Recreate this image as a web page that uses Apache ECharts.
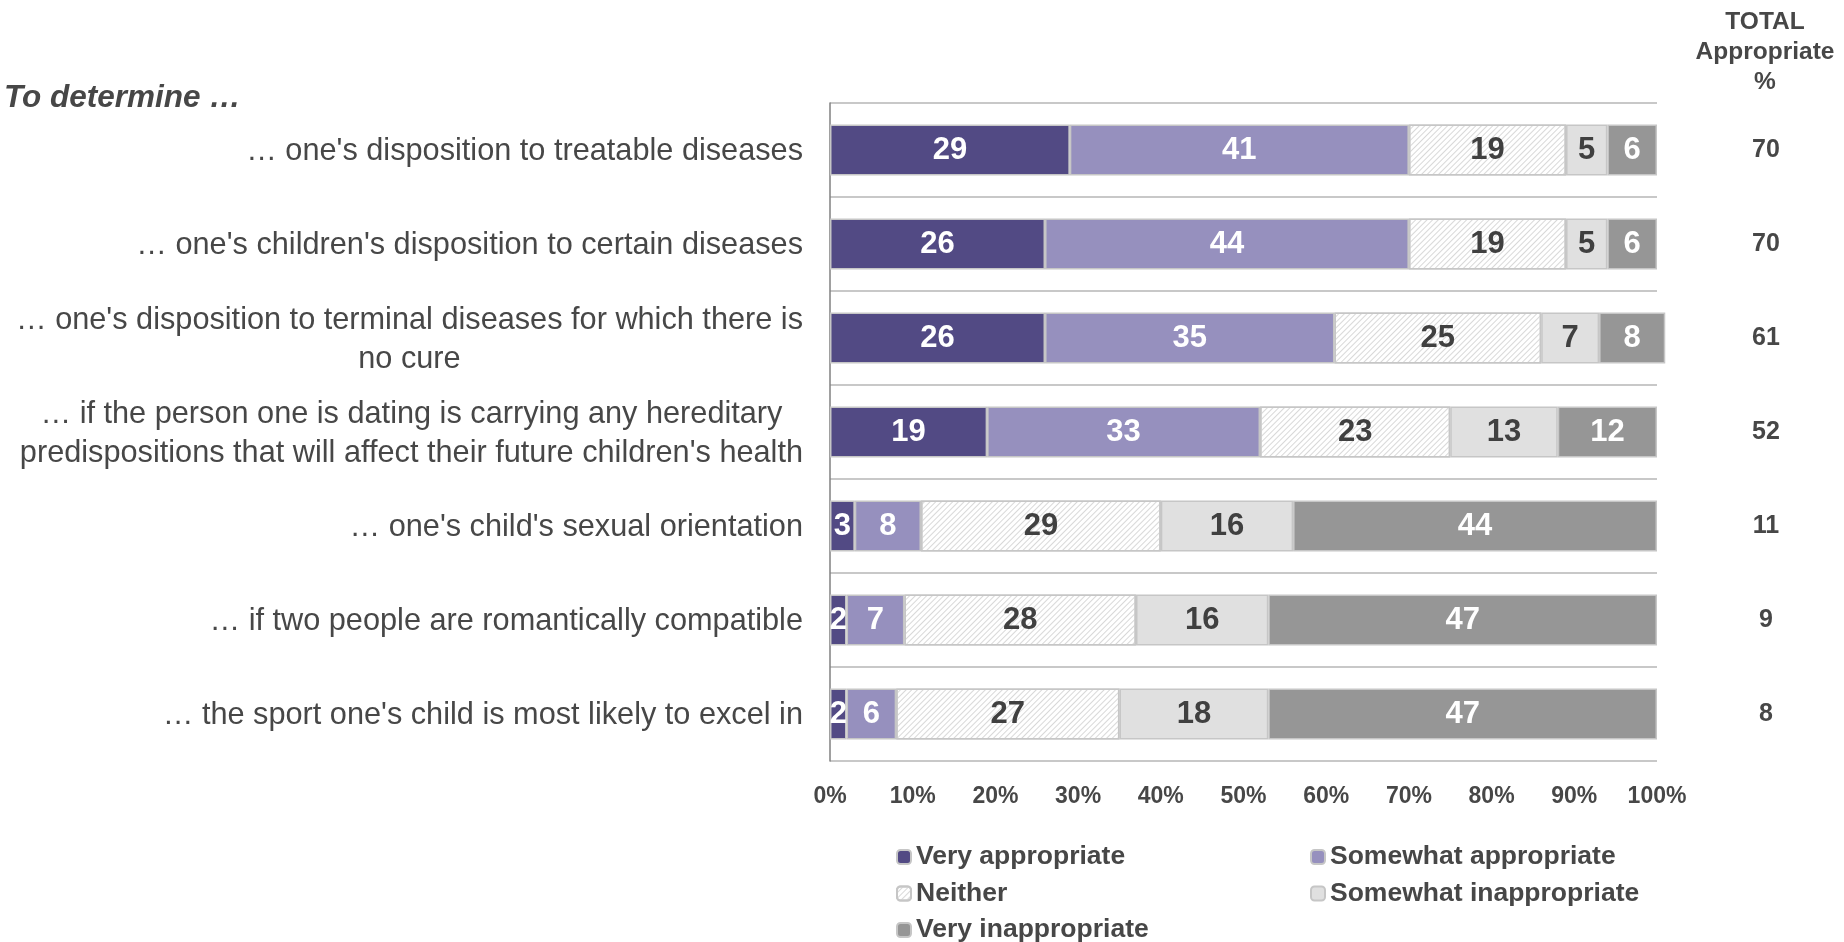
<!DOCTYPE html>
<html>
<head>
<meta charset="utf-8">
<script src="https://cdn.jsdelivr.net/npm/echarts@6/dist/echarts.min.js"></script>
<style>
html,body{margin:0;padding:0;background:#fff;}
#c{width:1844px;height:942px;}
</style>
</head>
<body>
<div id="c"></div>
<script>
const categories = [
  "… one's disposition to treatable diseases",
  "… one's children's disposition to certain diseases",
  "… one's disposition to terminal diseases for which there is\nno cure",
  "… if the person one is dating is carrying any hereditary\npredispositions that will affect their future children's health",
  "… one's child's sexual orientation",
  "… if two people are romantically compatible",
  "… the sport one's child is most likely to excel in"
];
const seriesNames = ["Very appropriate", "Somewhat appropriate", "Neither", "Somewhat inappropriate", "Very inappropriate"];
const veryAppropriate = [29, 26, 26, 19, 3, 2, 2];
const somewhatAppropriate = [41, 44, 35, 33, 8, 7, 6];
const neither = [19, 19, 25, 23, 29, 28, 27];
const somewhatInappropriate = [5, 5, 7, 13, 16, 16, 18];
const veryInappropriate = [6, 6, 8, 12, 44, 47, 47];
const totalAppropriate = [70, 70, 61, 52, 11, 9, 8];
const xTicks = [0, 10, 20, 30, 40, 50, 60, 70, 80, 90, 100];

const FONT = "'Liberation Sans', Arial, sans-serif";
const TXT = '#474747';
const colors = ['#524a84', '#9690be', '#ffffff', '#e0e0e0', '#969696'];
const labelColors = ['#ffffff', '#ffffff', '#404040', '#404040', '#ffffff'];
const values = [veryAppropriate, somewhatAppropriate, neither, somewhatInappropriate, veryInappropriate];

const series = seriesNames.map((name, i) => {
  const itemStyle = {color: colors[i], borderColor: '#c6c6c6', borderWidth: 1.5};
  if (i === 2) {
    itemStyle.decal = {
      symbol: 'rect', symbolSize: 1, color: '#d8d8d8',
      dashArrayX: [1, 0], dashArrayY: [1, 3], rotation: -Math.PI / 4
    };
  }
  return {
    name: name, type: 'bar', stack: 'total', barWidth: 51, clip: false,
    data: values[i], itemStyle: itemStyle,
    label: {show: true, position: 'inside', color: labelColors[i],
      fontFamily: FONT, fontWeight: 'bold', fontSize: 31, formatter: '{c}'},
    emphasis: {disabled: true}
  };
});

const legendText = {color: TXT, fontFamily: FONT, fontWeight: 'bold', fontSize: 26.5, lineHeight: 28};
const legendBase = {orient: 'vertical', itemWidth: 14, itemHeight: 14, itemGap: 8.5, itemTextGap: 6,
  selectedMode: false, textStyle: legendText};

const chart = echarts.init(document.getElementById('c'), null, {renderer: 'canvas'});
chart.setOption({
  animation: false,
  backgroundColor: '#ffffff',
  grid: {left: 830, right: 187, top: 103, bottom: 181, containLabel: false},
  xAxis: {
    type: 'value', min: 0, max: 100, interval: 10,
    axisLine: {show: false}, axisTick: {show: false}, splitLine: {show: false},
    axisLabel: {formatter: v => xTicks.includes(v) ? v + '%' : '', margin: 24,
      color: TXT, fontFamily: FONT, fontWeight: 'bold', fontSize: 23}
  },
  yAxis: [{
    type: 'category', inverse: true, data: categories,
    axisLine: {show: true, lineStyle: {color: '#808080', width: 1.5}},
    axisTick: {show: false},
    splitLine: {show: true, lineStyle: {color: '#c8c8c8', width: 2}},
    axisLabel: {interval: 0, margin: 27, align: 'right', color: TXT, fontFamily: FONT, fontSize: 30.7,
      padding: [4, 0, 0, 0],
      formatter: v => v.split('\n').map(l => '{c|' + l + '}').join('\n'),
      rich: {c: {align: 'center', color: TXT, fontFamily: FONT, fontSize: 30.7, lineHeight: 39}}}
  }, {
    type: 'category', inverse: true, position: 'right', data: totalAppropriate.map(String),
    axisLine: {show: false}, axisTick: {show: false}, splitLine: {show: false},
    axisLabel: {interval: 0, margin: 109, align: 'center', color: TXT, fontFamily: FONT,
      fontWeight: 'bold', fontSize: 25}
  }],
  legend: [
    Object.assign({left: 891, top: 838, data: [seriesNames[0], seriesNames[2]]}, legendBase),
    Object.assign({left: 1305, top: 838, data: [seriesNames[1], seriesNames[3]]}, legendBase),
    Object.assign({left: 891, top: 911, data: [seriesNames[4]]}, legendBase)
  ],
  graphic: [{
    type: 'text', left: 4, top: 82,
    style: {text: 'To determine …', fill: TXT, font: "italic bold 31.5px 'Liberation Sans', Arial, sans-serif"}
  }, {
    type: 'text', x: 1765, y: 7,
    style: {text: 'TOTAL\nAppropriate\n%', fill: TXT, align: 'center', lineHeight: 30,
      font: "bold 24.5px 'Liberation Sans', Arial, sans-serif"}
  }],
  series: series
});
</script>
</body>
</html>
